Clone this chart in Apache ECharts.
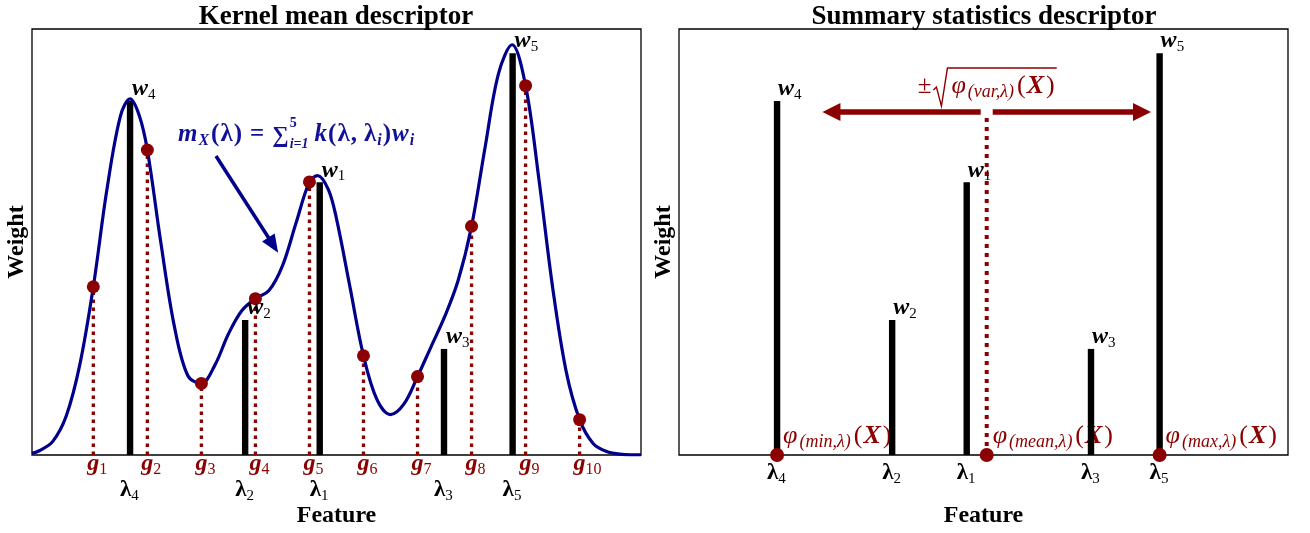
<!DOCTYPE html>
<html>
<head>
<meta charset="utf-8">
<script src="https://cdn.jsdelivr.net/npm/echarts@6/dist/echarts.min.js"></script>
<style>
  html, body { margin: 0; background: #fff; }
  #box { width: 1310px; height: 533px; }
</style>
</head>
<body>
<div id="box"></div>
<script>
// feature positions lambda_1..lambda_5 and their weights w_1..w_5
var lambdas = [5.19, 3.81, 7.49, 1.68, 8.76];
var weights = [0.640, 0.317, 0.249, 0.831, 0.943];

var gridX = [1, 2, 3, 4, 5, 6, 7, 8, 9, 10];
var gridVals = [0.395, 0.716, 0.168, 0.367, 0.641, 0.233, 0.184, 0.537, 0.867, 0.083];

// traced kernel mean curve m_X(lambda)
var curveX = [-0.135, 0, 0.25, 0.5, 0.75, 1, 1.25, 1.5, 1.68, 1.85, 2, 2.25, 2.5, 2.75, 3, 3.25, 3.5, 3.75,
  4, 4.25, 4.5, 4.75, 5, 5.15, 5.35, 5.5, 5.75, 6, 6.25, 6.5, 6.75, 7, 7.25, 7.5, 7.75, 8, 8.25, 8.5,
  8.75, 9, 9.25, 9.5, 9.75, 10, 10.25, 10.5, 10.75, 11, 11.136];
var curveY = [0.004, 0.010, 0.032, 0.092, 0.212, 0.395, 0.622, 0.795, 0.836, 0.797, 0.716, 0.498, 0.302,
  0.186, 0.168, 0.211, 0.284, 0.339, 0.367, 0.386, 0.444, 0.544, 0.641, 0.656, 0.623, 0.555, 0.394,
  0.233, 0.130, 0.095, 0.120, 0.184, 0.254, 0.324, 0.409, 0.537, 0.722, 0.896, 0.963, 0.867, 0.644,
  0.394, 0.197, 0.083, 0.027, 0.008, 0.002, 0.0003, 0.0001];

// summary statistics of the feature distribution
var statNames = ['min', 'mean', 'max'];
var statVals = [1.68, 5.56, 8.76];
var phiStd = 3.04;

var featureMin = -0.135, featureMax = 11.136;

var RED = '#8b0000', NAVY = '#00008b', INK = '#10109a';
var SERIF = '"Liberation Serif", "DejaVu Serif", serif';
var measure = document.createElement('canvas').getContext('2d');

function font(t) {
  return (t.it ? 'italic ' : '') + (t.b ? 'bold ' : '') + (t.s || 23) + 'px ' + SERIF;
}

// lays out a row of math tokens left to right, returns text elements
function mathRow(tokens, x, y, color, extra) {
  var children = [];
  tokens.forEach(function (tok) {
    var parts = tok.stack || [tok];
    var w = 0;
    parts.forEach(function (p) {
      var f = font(p);
      measure.font = f;
      children.push({
        type: 'text', silent: true,
        style: { text: p.t, x: x, y: y + (p.dy || 0), font: f, fill: color,
          align: 'left', verticalAlign: 'middle', textAlign: 'left', textVerticalAlign: 'middle' }
      });
      w = Math.max(w, measure.measureText(p.t).width);
    });
    x += w + (tok.gap || 0) + (extra || 0);
  });
  return { children: children, end: x };
}

function arrowHead(tip, dir, len, half, color) {
  var ux = dir[0], uy = dir[1];
  var bx = tip[0] - ux * len, by = tip[1] - uy * len;
  return {
    type: 'polygon', silent: true,
    shape: { points: [tip, [bx - uy * half, by + ux * half], [bx + uy * half, by - ux * half]] },
    style: { fill: color }
  };
}

var chart = echarts.init(document.getElementById('box'));

var barData = lambdas.map(function (l, i) { return [l, weights[i]]; });
var lambdaData = lambdas.map(function (l) { return [l, 0]; });

function renderBar(params, api) {
  var p0 = api.coord([api.value(0), 0]);
  var p1 = api.coord([api.value(0), api.value(1)]);
  return { type: 'rect', shape: { x: p0[0] - 3.2, y: p1[1], width: 6.4, height: p0[1] - p1[1] }, style: { fill: '#000' } };
}

function renderW(dx) {
  return function (params, api) {
    var p = api.coord([api.value(0), api.value(1)]);
    var n = String(params.dataIndex + 1);
    return { type: 'group', children: mathRow([{ t: 'w', it: 1, b: 1, s: 24 }, { t: n, s: 15, dy: 6 }], p[0] + dx, p[1] - 12, '#000').children };
  };
}

function renderLambda(dy) {
  return function (params, api) {
    var p = api.coord([api.value(0), 0]);
    var n = String(params.dataIndex + 1);
    return { type: 'group', children: mathRow([{ t: 'λ', b: 1, s: 23 }, { t: n, s: 15, dy: 6 }], p[0] - 10, p[1] + dy, '#000').children };
  };
}

function renderProbe(params, api) {
  var p0 = api.coord([api.value(0), 0]);
  var p1 = api.coord([api.value(0), api.value(1)]);
  return { type: 'line', shape: { x1: p0[0], y1: p0[1], x2: p1[0], y2: p1[1] },
    style: { stroke: RED, lineWidth: 3.3, lineDash: [3.5, 4.5] } };
}

function renderG(params, api) {
  var p = api.coord([api.value(0), 0]);
  var n = String(params.dataIndex + 1);
  return { type: 'group', children: mathRow([{ t: 'g', it: 1, b: 1, s: 24 }, { t: n, s: 16, dy: 6 }], p[0] - 6, p[1] + 9, RED).children };
}

// formula and pointer arrow in the left panel
function renderFormula(params, api) {
  var a = api.coord([2.567, 0.752]);
  var row = mathRow([
    { t: 'm', it: 1, b: 1, s: 25 }, { t: 'X', it: 1, b: 1, s: 16, dy: 6, gap: 1 },
    { t: '(', b: 1, s: 25 }, { t: 'λ', b: 1, s: 25 }, { t: ')', b: 1, s: 25, gap: 7 }, { t: '=', b: 1, s: 25, gap: 7 },
    { t: '∑', b: 1, s: 23, dy: 1 },
    { stack: [{ t: '5', b: 1, s: 14, dy: -11 }, { t: 'i=1', it: 1, b: 1, s: 14, dy: 10 }], gap: 5 },
    { t: 'k', it: 1, b: 1, s: 25 }, { t: '(', b: 1, s: 25 }, { t: 'λ', b: 1, s: 25 }, { t: ',', b: 1, s: 25, gap: 6 },
    { t: 'λ', b: 1, s: 25 }, { t: 'i', it: 1, b: 1, s: 16, dy: 6 }, { t: ')', b: 1, s: 25 },
    { t: 'w', it: 1, b: 1, s: 25 }, { t: 'i', it: 1, b: 1, s: 16, dy: 6 }
  ], a[0], a[1], INK, 1);
  var p0 = api.coord([3.27, 0.702]);
  var p1 = api.coord([4.42, 0.475]);
  var dx = p1[0] - p0[0], dy = p1[1] - p0[1], d = Math.sqrt(dx * dx + dy * dy);
  var u = [dx / d, dy / d];
  var kids = row.children.concat([
    { type: 'line', silent: true, shape: { x1: p0[0], y1: p0[1], x2: p1[0] - u[0] * 12, y2: p1[1] - u[1] * 12 },
      style: { stroke: NAVY, lineWidth: 3.5 } },
    arrowHead(p1, u, 18, 7.5, NAVY)
  ]);
  return { type: 'group', children: kids };
}

function phiTokens(name) {
  return [
    { t: 'φ', it: 1, s: 26, gap: 1 }, { t: '(' + name + ',λ)', it: 1, s: 18, dy: 6, gap: 2 },
    { t: '(', s: 26 }, { t: 'X', it: 1, b: 1, s: 26, gap: 1 }, { t: ')', s: 26 }
  ];
}

function renderStatLabel(params, api) {
  var p = api.coord([api.value(0), 0]);
  return { type: 'group', children: mathRow(phiTokens(statNames[params.dataIndex]), p[0] + 6, p[1] - 19, RED, 1).children };
}

// mean marker line, +- sqrt(var) arrow and its label
function renderSpread(params, api) {
  var mean = api.value(0), sd = api.value(1);
  var level = 0.805;
  var base = api.coord([mean, 0]);
  var c = api.coord([mean, level]);
  var left = api.coord([mean - sd, level]);
  var right = api.coord([mean + sd, level]);
  var y = c[1];
  var kids = [
    { type: 'line', silent: true, shape: { x1: base[0], y1: base[1], x2: base[0], y2: y + 3 },
      style: { stroke: RED, lineWidth: 4, lineDash: [4, 5] } },
    { type: 'line', silent: true, shape: { x1: left[0] + 12, y1: y, x2: c[0] - 6, y2: y }, style: { stroke: RED, lineWidth: 5.5 } },
    { type: 'line', silent: true, shape: { x1: c[0] + 6, y1: y, x2: right[0] - 12, y2: y }, style: { stroke: RED, lineWidth: 5.5 } },
    arrowHead(left, [-1, 0], 18, 9, RED),
    arrowHead(right, [1, 0], 18, 9, RED)
  ];
  var ly = y - 26;
  var pm = mathRow([{ t: '±', s: 25 }], c[0] - 69, ly, RED);
  var rx = pm.end + 2;
  var rad = mathRow(phiTokens('var'), rx + 18, ly, RED, 1);
  kids = kids.concat(pm.children, rad.children, [{
    type: 'polyline', silent: true,
    shape: { points: [[rx, ly + 4], [rx + 3, ly + 1], [rx + 8, ly + 20], [rx + 14, ly - 18], [rad.end + 1, ly - 18]] },
    style: { stroke: RED, lineWidth: 1.4, fill: null }
  }]);
  return { type: 'group', children: kids };
}

function axisX(grid) {
  return {
    gridIndex: grid, type: 'value', min: featureMin, max: featureMax,
    axisLine: { show: false }, axisTick: { show: false }, axisLabel: { show: false }, splitLine: { show: false },
    name: 'Feature', nameLocation: 'middle', nameGap: 49,
    nameTextStyle: { fontFamily: SERIF, fontSize: 24, fontWeight: 'bold', color: '#000' }
  };
}
function axisY(grid) {
  return {
    gridIndex: grid, type: 'value', min: 0, max: 1,
    axisLine: { show: false }, axisTick: { show: false }, axisLabel: { show: false }, splitLine: { show: false },
    name: 'Weight', nameLocation: 'middle', nameGap: 3,
    nameTextStyle: { fontFamily: SERIF, fontSize: 24, fontWeight: 'bold', color: '#000' }
  };
}

var titleStyle = { fontFamily: SERIF, fontSize: 27, fontWeight: 'bold', color: '#000' };

var option = {
  animation: false,
  backgroundColor: '#fff',
  title: [
    { text: 'Kernel mean descriptor', left: 336, top: 4, padding: 0, textAlign: 'center', textStyle: titleStyle },
    { text: 'Summary statistics descriptor', left: 984, top: 4, padding: 0, textAlign: 'center', textStyle: titleStyle }
  ],
  grid: [
    { left: 32, top: 29, width: 609, height: 430, show: true, borderColor: '#000', borderWidth: 1.3 },
    { left: 679, top: 29, width: 609, height: 430, show: true, borderColor: '#000', borderWidth: 1.3 }
  ],
  xAxis: [axisX(0), axisX(1)],
  yAxis: [axisY(0), axisY(1)],
  series: [
    // left panel
    { type: 'custom', xAxisIndex: 0, yAxisIndex: 0, z: 2, renderItem: renderProbe,
      data: gridX.map(function (x, i) { return [x, gridVals[i]]; }), encode: { x: 0, y: 1 } },
    { type: 'custom', xAxisIndex: 0, yAxisIndex: 0, z: 2, renderItem: renderBar, data: barData, encode: { x: 0, y: 1 } },
    { type: 'line', xAxisIndex: 0, yAxisIndex: 0, z: 3, smooth: 0.35, symbol: 'none',
      lineStyle: { color: NAVY, width: 3.2 },
      data: curveX.map(function (x, i) { return [x, curveY[i]]; }) },
    { type: 'scatter', xAxisIndex: 0, yAxisIndex: 0, z: 4, symbolSize: 13, itemStyle: { color: RED, opacity: 1 },
      data: gridX.map(function (x, i) { return [x, gridVals[i]]; }) },
    { type: 'custom', xAxisIndex: 0, yAxisIndex: 0, z: 5, renderItem: renderW(2), data: barData, encode: { x: 0, y: 1 } },
    { type: 'custom', xAxisIndex: 0, yAxisIndex: 0, z: 5, renderItem: renderLambda(35), data: lambdaData, encode: { x: 0, y: 1 } },
    { type: 'custom', xAxisIndex: 0, yAxisIndex: 0, z: 5, renderItem: renderG,
      data: gridX.map(function (x) { return [x, 0]; }), encode: { x: 0, y: 1 } },
    { type: 'custom', xAxisIndex: 0, yAxisIndex: 0, z: 5, renderItem: renderFormula, data: [[0, 0]] },
    // right panel
    { type: 'custom', xAxisIndex: 1, yAxisIndex: 1, z: 2, renderItem: renderStatLabel,
      data: statVals.map(function (v) { return [v, 0]; }), encode: { x: 0, y: 1 } },
    { type: 'custom', xAxisIndex: 1, yAxisIndex: 1, z: 3, renderItem: renderSpread, data: [[statVals[1], phiStd]] },
    { type: 'custom', xAxisIndex: 1, yAxisIndex: 1, z: 4, renderItem: renderBar, data: barData, encode: { x: 0, y: 1 } },
    { type: 'scatter', xAxisIndex: 1, yAxisIndex: 1, z: 5, symbolSize: 14, clip: false, itemStyle: { color: RED, opacity: 1 },
      data: statVals.map(function (v) { return [v, 0]; }) },
    { type: 'custom', xAxisIndex: 1, yAxisIndex: 1, z: 5, renderItem: renderW(1), data: barData, encode: { x: 0, y: 1 } },
    { type: 'custom', xAxisIndex: 1, yAxisIndex: 1, z: 5, renderItem: renderLambda(18), data: lambdaData, encode: { x: 0, y: 1 } }
  ]
};

chart.setOption(option);
</script>
</body>
</html>
